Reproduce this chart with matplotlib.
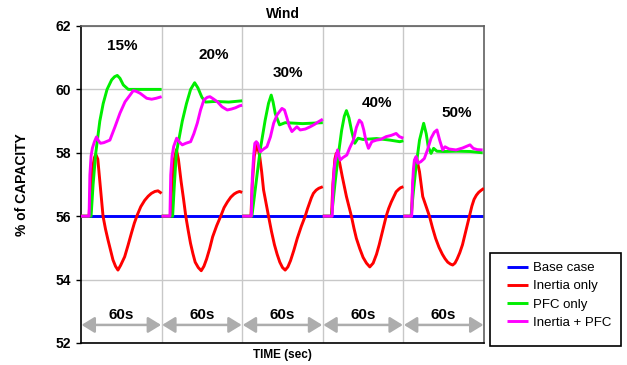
import numpy as np
import matplotlib
matplotlib.use('Agg')
import matplotlib.pyplot as plt
from matplotlib.patches import Rectangle

plt.rcParams['font.family'] = ['Liberation Sans', 'DejaVu Sans']

TITLE = 'Wind'
XLABEL = 'TIME (sec)'
YLABEL = '% of CAPACITY'
SEG_LEN = 60
SEG_LABELS = ['15%', '20%', '30%', '40%', '50%']
SEG_LABEL_POS = [(30.5, 61.37), (99, 61.1), (154, 60.52), (220, 59.57), (280, 59.26)]
SEG_TEXT = '60s'
Y_TICKS = [52, 54, 56, 58, 60, 62]

# base case: flat
base_t = [0, 300]
base_y = [56, 56]

# inertia only, one (t, y) pair of lists per 60 s window
inertia_segs = [
    ([0, 6, 7, 8.5, 10, 11, 12.5, 13.9, 15.2, 16.4, 18.2, 20.1, 22, 23.8, 25.7, 27.5, 29.5, 32.5, 35, 37.5, 39.7, 41.9, 44.5, 47.4, 50, 52.4, 55, 57.3, 60],
     [56, 56, 56.8, 57.5, 57.85, 57.95, 57.8, 57.14, 56.55, 56.0, 55.6, 55.25, 54.92, 54.62, 54.42, 54.3, 54.45, 54.72, 55.08, 55.46, 55.78, 56.04, 56.3, 56.5, 56.63, 56.72, 56.78, 56.8, 56.72]),
    ([0, 6.5, 7.5, 9, 11, 12.5, 14.5, 16.3, 18, 19.8, 21.5, 23.3, 25, 27.3, 29.5, 31.5, 33.5, 35.8, 38, 41, 44, 46.5, 49, 51.5, 54, 56, 58, 60],
     [56, 56, 56.9, 57.7, 58.1, 57.8, 57.1, 56.55, 56.0, 55.55, 55.15, 54.82, 54.55, 54.38, 54.28, 54.42, 54.65, 54.98, 55.35, 55.7, 56.0, 56.27, 56.45, 56.6, 56.7, 56.75, 56.78, 56.75]),
    ([0, 6.5, 7.5, 9, 11, 13, 14.5, 15.9, 17.8, 19.6, 21.8, 24, 26, 28, 30, 32, 34, 36, 38.5, 41, 44, 46.9, 48.5, 50, 51.5, 53, 55, 57, 60],
     [56, 56, 57, 57.9, 58.3, 57.9, 57.4, 56.83, 56.4, 56.0, 55.52, 55.1, 54.8, 54.55, 54.38, 54.3, 54.4, 54.6, 54.93, 55.3, 55.68, 56.0, 56.22, 56.4, 56.58, 56.72, 56.82, 56.88, 56.93]),
    ([0, 6.5, 7.5, 9, 10, 12, 14.5, 17.6, 19.5, 21.3, 23.2, 25, 27.5, 30, 32.5, 35, 37.5, 40, 42, 44, 45.6, 47.2, 49, 51, 53, 54.6, 56.5, 58, 60],
     [56, 56, 57, 57.8, 57.98, 57.8, 57.25, 56.62, 56.3, 56.0, 55.62, 55.3, 54.98, 54.7, 54.52, 54.4, 54.52, 54.8, 55.1, 55.45, 55.73, 56.0, 56.24, 56.45, 56.63, 56.77, 56.85, 56.9, 56.93]),
    ([0, 6, 7, 8.5, 10, 12, 14.4, 17, 19.4, 21.7, 24, 26.5, 29, 31, 33, 35, 36.7, 38.4, 40, 42, 44, 46.6, 49.2, 51, 52.6, 54.3, 56, 58, 60],
     [56, 56, 57, 57.6, 57.8, 57.4, 56.62, 56.3, 56.0, 55.63, 55.3, 55.02, 54.8, 54.66, 54.55, 54.49, 54.46, 54.52, 54.65, 54.85, 55.1, 55.55, 56.0, 56.32, 56.53, 56.66, 56.75, 56.82, 56.88]),
]

# PFC only
pfc_segs = [
    ([0, 7.5, 9, 11, 14, 16.5, 19.4, 22.8, 25, 27, 29, 31.5, 35.2, 45, 60],
     [56, 56, 57, 58, 59, 59.55, 60, 60.3, 60.4, 60.44, 60.35, 60.14, 60.0, 60.0, 60.0]),
    ([0, 8.2, 9.5, 11, 15.4, 18.5, 21.6, 24.6, 27, 30, 32.8, 40, 50, 60],
     [56, 56, 57, 58, 59, 59.55, 60, 60.21, 60.05, 59.75, 59.6, 59.62, 59.6, 59.64]),
    ([0, 7.2, 9, 10.9, 13.4, 17.1, 19.6, 21.6, 23, 24.6, 27.8, 32, 45, 60],
     [56, 56, 56.6, 57.25, 58.09, 59.03, 59.56, 59.82, 59.6, 59.24, 58.88, 58.95, 58.92, 58.95]),
    ([0, 6.5, 9, 11.4, 14, 16, 17.6, 19.5, 21.3, 23.8, 26.3, 30, 40, 50, 57.3, 60],
     [56, 56, 57, 57.88, 58.7, 59.15, 59.33, 59.1, 58.72, 58.3, 58.46, 58.42, 58.45, 58.4, 58.35, 58.38]),
    ([0, 5.7, 7.5, 9.4, 12, 15.1, 17, 18.5, 20.6, 22.5, 25, 30, 40, 50, 59],
     [56, 56, 56.8, 57.56, 58.4, 58.93, 58.6, 58.19, 57.98, 58.14, 58.05, 58.04, 58.05, 58.04, 58.0]),
]

# inertia + PFC
both_segs = [
    ([0, 6, 6.6, 7.5, 8.5, 10, 11.5, 13, 14.5, 17, 21.5, 25.3, 29, 32.8, 36.5, 38.9, 41, 43.9, 48.9, 52.6, 56, 60],
     [56, 56, 57.3, 57.9, 58.15, 58.35, 58.5, 58.38, 58.3, 58.32, 58.4, 58.82, 59.25, 59.61, 59.82, 59.96, 59.94, 59.88, 59.72, 59.69, 59.72, 59.77]),
    ([0, 6.2, 6.8, 7.8, 9, 11.2, 13, 15.4, 18, 21.6, 24, 26.6, 29, 31.5, 34, 36, 38.5, 41.5, 45, 48.9, 52, 55, 58, 60],
     [56, 56, 57.3, 57.9, 58.2, 58.46, 58.35, 58.25, 58.3, 58.35, 58.6, 58.94, 59.35, 59.67, 59.75, 59.77, 59.7, 59.61, 59.45, 59.35, 59.38, 59.42, 59.48, 59.5]),
    ([0, 6.8, 7.5, 8.5, 9.4, 10.5, 11.5, 13.4, 16, 18.4, 21, 23.4, 26, 29.6, 31.5, 33.3, 35, 37, 40.7, 43.2, 47, 50.6, 54, 56.8, 60],
     [56, 56, 57.2, 57.9, 58.3, 58.35, 58.3, 58.03, 58.12, 58.19, 58.5, 58.93, 59.2, 59.4, 59.35, 59.1, 58.85, 58.67, 58.82, 58.72, 58.75, 58.82, 58.9, 58.98, 59.06]),
    ([0, 7, 7.7, 8.5, 9.2, 11, 12.9, 15, 17.9, 20, 22.8, 25, 27.2, 29, 30.5, 32, 34, 36.5, 40, 43, 47.2, 51, 54.6, 57, 60],
     [56, 56, 57.0, 57.5, 57.72, 58.09, 57.77, 57.85, 57.93, 58.15, 58.4, 58.8, 59.03, 58.95, 58.72, 58.4, 58.14, 58.35, 58.4, 58.42, 58.51, 58.55, 58.61, 58.51, 58.46]),
    ([0, 6.2, 6.8, 7.5, 8.2, 9.4, 10.7, 13, 15.6, 18, 20.6, 23, 25, 27, 29.3, 31, 34, 39.2, 44, 49.6, 52, 55, 59],
     [56, 56, 57.0, 57.5, 57.77, 57.88, 57.67, 57.72, 57.82, 58.1, 58.46, 58.65, 58.72, 58.4, 58.09, 58.19, 58.12, 58.09, 58.15, 58.25, 58.14, 58.1, 58.09]),
]

SERIES = [
    ('Base case', 'blue', None),
    ('Inertia only', 'red', inertia_segs),
    ('PFC only', '#00ee00', pfc_segs),
    ('Inertia + PFC', '#ff00ff', both_segs),
]


def join_segments(segs):
    xs, ys = [], []
    for k, (t, y) in enumerate(segs):
        xs.extend(np.array(t) + k * SEG_LEN)
        ys.extend(y)
        xs.append(np.nan)
        ys.append(np.nan)
    return xs, ys


fig = plt.figure(figsize=(6.27, 3.65), dpi=100)
ax = fig.add_axes([0.1292, 0.0603, 0.6427, 0.8685])

lines = []
for z, (label, color, segs) in enumerate(SERIES):
    if segs is None:
        x, y = base_t, base_y
    else:
        x, y = join_segments(segs)
    ln, = ax.plot(x, y, color=color, lw=2.1, zorder=2 + z, label=label,
                  solid_capstyle='butt', solid_joinstyle='round')
    lines.append(ln)

ax.set_xlim(0, 300)
ax.set_ylim(52, 62)
ax.set_yticks(Y_TICKS)
ax.set_xticks(range(60, 300, 60))
ax.tick_params(axis='x', length=0, labelbottom=False)
ax.tick_params(axis='y', length=3.5, width=1, pad=3.5, labelsize=10)
for lab in ax.get_yticklabels():
    lab.set_fontweight('bold')
ax.grid(color='#c8c8c8', lw=1)
ax.set_axisbelow(True)
for side in ['left', 'bottom']:
    ax.spines[side].set_color('black')
    ax.spines[side].set_linewidth(1.2)
for side in ['top', 'right']:
    ax.spines[side].set_color('#606060')
    ax.spines[side].set_linewidth(1.2)

ax.set_title(TITLE, fontsize=10, fontweight='bold', pad=6)
ax.set_xlabel(XLABEL, fontsize=8.5, fontweight='bold', labelpad=4)
ax.set_ylabel(YLABEL, fontsize=10, fontweight='bold', labelpad=19)

for txt, (px, py) in zip(SEG_LABELS, SEG_LABEL_POS):
    ax.text(px, py, txt, fontsize=11, fontweight='bold', ha='center', va='center', zorder=10)

for k in range(len(SEG_LABELS)):
    x0 = k * SEG_LEN
    ax.annotate('', xy=(x0 + 0.4, 52.57), xytext=(x0 + SEG_LEN - 0.4, 52.57),
                arrowprops=dict(arrowstyle='<|-|>,head_length=0.65,head_width=0.4',
                                color='#adadad', lw=1.8, mutation_scale=12,
                                shrinkA=0, shrinkB=0), zorder=6)
    ax.text(x0 + SEG_LEN / 2, 52.87, SEG_TEXT, fontsize=11, fontweight='bold',
            ha='center', va='center', zorder=10)

# legend box outside the axes
fig.patches.append(Rectangle((490 / 627, 1 - 346 / 365), 131 / 627, 93 / 365,
                             transform=fig.transFigure, fill=False,
                             edgecolor='black', lw=1.2))
fig.legend(handles=lines, loc='upper left', bbox_to_anchor=(507 / 627, 1 - 262 / 365),
           frameon=False, fontsize=9.5, handlelength=1.6, handletextpad=0.35,
           labelspacing=0.45, borderpad=0, borderaxespad=0)

fig.savefig('out.png', dpi=100)
